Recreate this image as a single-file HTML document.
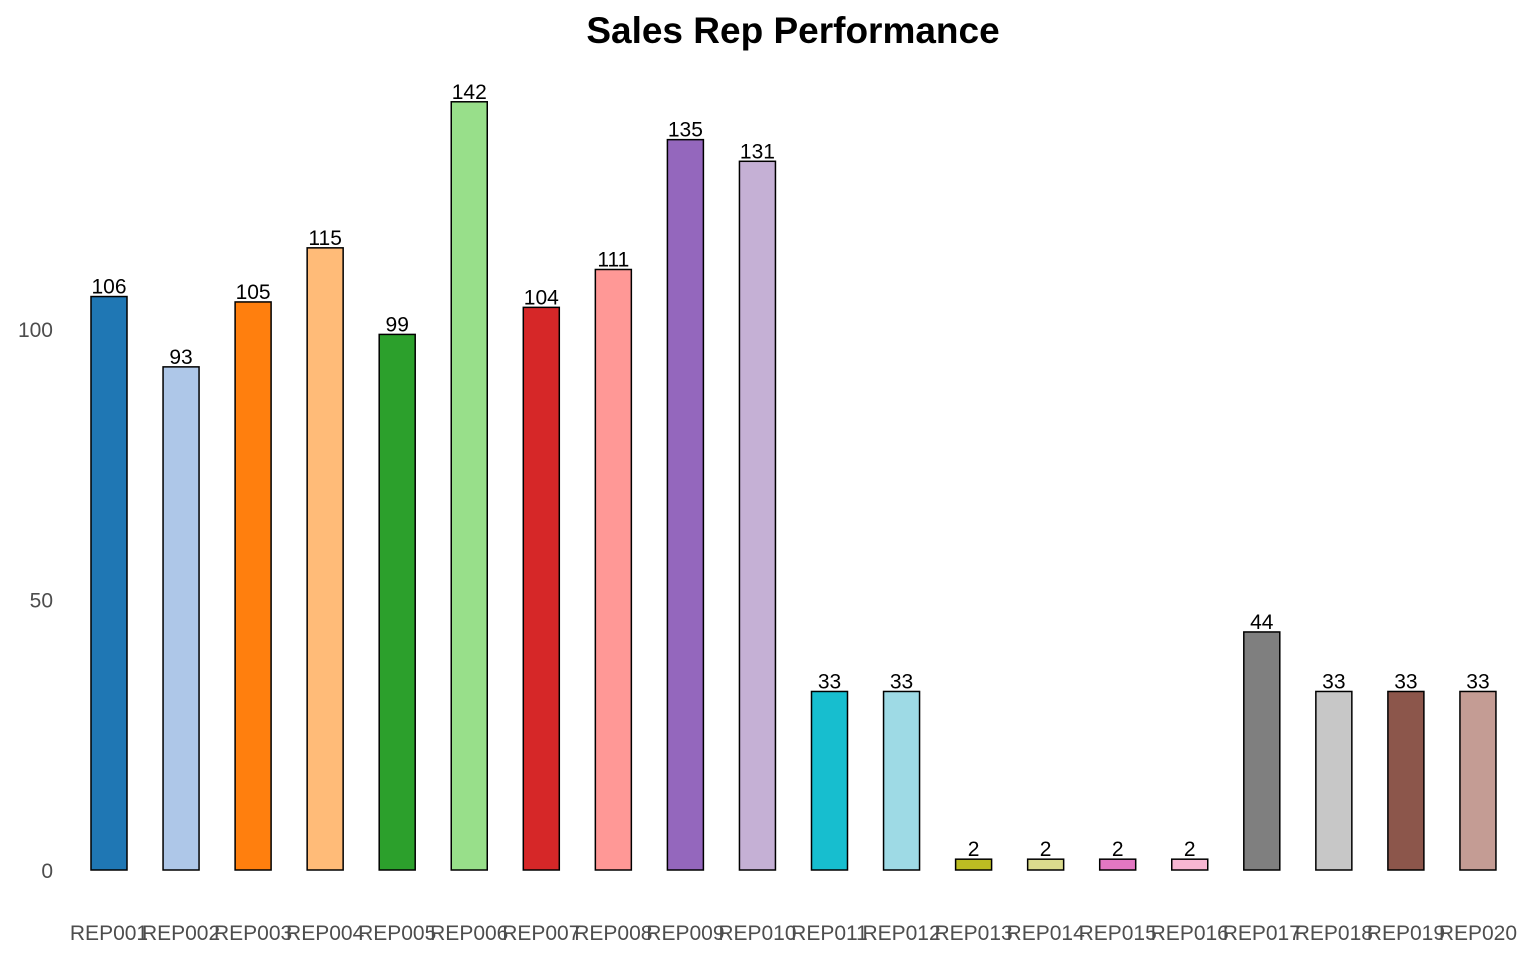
<!DOCTYPE html>
<html><head><meta charset="utf-8"><style>
body{margin:0;background:#fff;}
svg{display:block;font-family:"Liberation Sans",sans-serif;}
</style></head><body>
<svg id="chart" width="1536" height="960">
<text x="793" y="43" text-anchor="middle" font-size="37" font-weight="bold" fill="#000">Sales Rep Performance</text>
<g id="yaxis"></g>
<g id="bars"></g>
<g id="xaxis"></g>
</svg>
<script>
const categories=["REP001","REP002","REP003","REP004","REP005","REP006","REP007","REP008","REP009","REP010","REP011","REP012","REP013","REP014","REP015","REP016","REP017","REP018","REP019","REP020"];
const values=[106,93,105,115,99,142,104,111,135,131,33,33,2,2,2,2,44,33,33,33];
const yTicks=[0,50,100];
const colors=["#1f77b4","#aec7e8","#ff7f0e","#ffbb78","#2ca02c","#98df8a","#d62728","#ff9896","#9467bd","#c5b0d5","#17becf","#9edae5","#bcbd22","#dbdb8d","#e377c2","#f7b6d2","#7f7f7f","#c7c7c7","#8c564b","#c49c94"];
const NS="http://www.w3.org/2000/svg";
const x0=109,step=72.05,barW=36;
function xPos(i){return x0+i*step;}
function yPos(v){return 870-v*5.41;}
const bars=document.getElementById('bars'),xa=document.getElementById('xaxis'),ya=document.getElementById('yaxis');
yTicks.forEach(t=>{
 const tx=document.createElementNS(NS,'text');
 
 
 tx.setAttribute('x',53);tx.setAttribute('y',yPos(t)+8);
 tx.setAttribute('text-anchor','end');tx.setAttribute('font-size','21');tx.setAttribute('fill','#4d4d4d');
 tx.textContent=t;ya.appendChild(tx);
});
categories.forEach((c,i)=>{
 const v=values[i],x=xPos(i),y=yPos(v);
 const r=document.createElementNS(NS,'rect');
 
 
 r.setAttribute('x',x-barW/2);r.setAttribute('y',y);r.setAttribute('width',barW);r.setAttribute('height',870-y);
 r.setAttribute('fill',colors[i]);r.setAttribute('stroke','#000');r.setAttribute('stroke-width','1.5');
 bars.appendChild(r);
 const l=document.createElementNS(NS,'text');
 
 
 l.setAttribute('x',x);l.setAttribute('y',y-3);l.setAttribute('text-anchor','middle');l.setAttribute('font-size','21');
 l.textContent=v;bars.appendChild(l);
 const t=document.createElementNS(NS,'text');
 
 
 t.setAttribute('x',x);t.setAttribute('y',940);t.setAttribute('text-anchor','middle');t.setAttribute('font-size','21');t.setAttribute('fill','#4d4d4d');
 t.textContent=c;xa.appendChild(t);
});
</script>
</body></html>
